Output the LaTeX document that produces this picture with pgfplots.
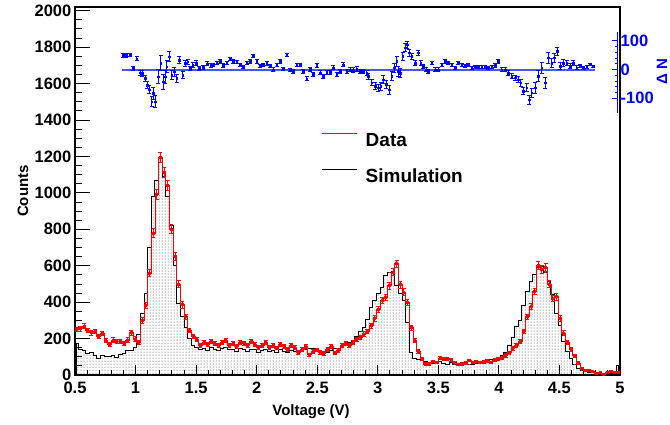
\documentclass[border=0pt]{standalone}
\usepackage{fontspec}
\setmainfont{Liberation Sans}
\usepackage{pgfplots}
\usepackage{pgfplotstable}
\pgfplotsset{compat=1.18}
\usetikzlibrary{patterns}
\definecolor{zeroblue}{RGB}{80,80,255}

\pgfplotstableread{
x data err sim
0.515 250 13 175
0.545 255 14 138
0.575 268 14 135
0.605 245 13 118
0.635 232 13 125
0.665 240 13 108
0.695 212 12 92
0.725 228 13 105
0.755 190 12 100
0.785 170 11 104
0.815 192 12 106
0.845 182 11 98
0.875 186 12 115
0.905 176 11 118
0.935 192 12 135
0.965 232 13 137
0.995 198 12 152
1.025 180 11 220
1.055 300 15 335
1.085 380 17 450
1.115 560 19 700
1.145 780 23 980
1.175 990 27 1070
1.205 1195 29 1190
1.235 1110 28 1090
1.265 1040 27 980
1.295 800 24 820
1.325 650 22 600
1.355 500 19 390
1.385 385 17 320
1.415 320 15 260
1.445 245 13 200
1.475 212 12 160
1.505 195 12 150
1.535 165 11 140
1.565 180 11 145
1.595 168 11 135
1.625 185 12 150
1.655 172 11 140
1.685 160 11 132
1.715 178 11 145
1.745 190 12 150
1.775 165 11 138
1.805 172 11 140
1.835 158 11 128
1.865 180 11 145
1.895 175 11 140
1.925 160 11 130
1.955 185 12 142
1.985 170 11 138
2.015 150 10 125
2.045 165 11 135
2.075 178 11 140
2.105 150 10 128
2.135 162 11 132
2.165 148 10 125
2.195 170 11 138
2.225 155 11 130
2.255 142 10 122
2.285 165 11 135
2.315 150 10 130
2.345 125 10 135
2.375 140 10 137
2.405 155 11 140
2.435 112 9 146
2.465 130 10 146
2.495 138 10 144
2.525 125 10 130
2.555 118 9 128
2.585 140 10 126
2.615 155 11 135
2.645 120 9 146
2.675 135 10 148
2.705 160 11 160
2.735 172 11 174
2.765 165 11 176
2.795 178 11 185
2.825 195 12 210
2.855 205 12 240
2.885 225 13 262
2.915 240 13 305
2.945 270 14 370
2.975 310 15 410
3.005 360 16 445
3.035 410 17 480
3.065 425 18 545
3.095 490 19 560
3.125 565 20 568
3.155 610 21 490
3.185 495 19 450
3.215 455 18 410
3.245 400 17 290
3.275 260 14 125
3.305 190 12 92
3.335 130 10 85
3.365 90 8 82
3.395 60 7 75
3.425 62 7 70
3.455 75 7 62
3.485 70 7 68
3.515 92 8 72
3.545 88 8 65
3.575 90 8 60
3.605 85 8 70
3.635 70 7 55
3.665 58 6 50
3.695 62 7 58
3.725 66 7 62
3.755 80 8 55
3.785 70 7 60
3.815 75 7 65
3.845 68 7 62
3.875 72 7 66
3.905 78 8 75
3.935 70 7 85
3.965 82 8 82
3.995 88 8 90
4.025 95 8 105
4.055 108 9 125
4.085 122 9 160
4.115 145 10 205
4.145 165 11 265
4.175 185 12 300
4.205 240 13 380
4.235 320 15 460
4.265 375 16 512
4.295 460 18 550
4.325 600 21 590
4.355 580 20 595
4.385 590 21 560
4.415 500 19 515
4.445 420 17 440
4.475 430 18 340
4.505 310 15 270
4.535 230 13 185
4.565 180 11 130
4.595 140 10 90
4.625 105 9 55
4.655 65 7 35
4.685 35 5 22
4.715 27 4 18
4.745 25 4 15
4.775 18 4 12
4.805 10 3 10
4.835 12 3 10
4.865 6 2 8
4.895 14 3 8
4.925 20 4 6
4.955 16 3 5
4.985 15 3 50
}\histtbl

\pgfplotstableread{
x y e
0.899 50 7
0.921 50 7
0.954 50 6
0.982 4 6
1.009 37 7
1.037 -11 8
1.053 -13 10
1.078 -31 10
1.097 -54 12
1.114 -71 14
1.133 -112 18
1.147 -83 20
1.161 -112 20
1.188 -25 24
1.208 22 26
1.229 -42 26
1.246 -25 22
1.257 10 20
1.276 45 18
1.298 -19 16
1.317 -8 15
1.340 -31 14
1.361 33 12
1.389 -19 11
1.408 22 10
1.431 27 9
1.450 4 8
1.472 16 8
1.500 22 8
1.526 4 7
1.560 8 7
1.590 20 7
1.620 15 6
1.642 17 6
1.670 23 6
1.697 29 6
1.725 14 6
1.752 23 6
1.780 37 6
1.807 29 6
1.835 26 6
1.862 17 6
1.890 9 6
1.917 23 6
1.945 29 6
1.973 46 5
2.000 29 6
2.028 12 6
2.055 17 6
2.083 21 6
2.110 12 6
2.138 0 6
2.165 17 6
2.193 29 6
2.220 2 6
2.248 52 5
2.275 -2 6
2.303 -6 6
2.330 17 6
2.358 17 6
2.385 -6 7
2.413 -32 7
2.441 2 7
2.468 -17 7
2.496 14 7
2.523 -11 7
2.551 -23 7
2.578 -9 7
2.606 -9 7
2.633 6 7
2.661 -17 7
2.688 -6 7
2.716 17 7
2.743 -6 7
2.771 0 7
2.798 -2 8
2.826 2 8
2.853 -6 8
2.881 -6 8
2.908 -12 9
2.922 -23 10
2.950 -46 10
2.977 -58 12
3.005 -64 12
3.024 -58 14
3.046 -35 14
3.068 -52 15
3.096 -70 16
3.115 -23 16
3.134 6 17
3.156 29 17
3.170 -6 17
3.184 -12 16
3.206 46 15
3.225 76 14
3.244 87 12
3.261 58 11
3.280 46 10
3.308 23 9
3.335 58 8
3.354 23 7
3.376 12 7
3.398 0 6
3.418 -6 6
3.445 23 6
3.473 0 6
3.500 0 6
3.528 17 6
3.555 29 6
3.583 23 6
3.610 17 6
3.638 6 6
3.665 23 6
3.693 17 6
3.720 12 6
3.748 17 6
3.775 6 6
3.803 9 6
3.830 9 6
3.858 9 6
3.886 9 6
3.913 6 6
3.941 9 6
3.968 14 6
3.996 29 6
4.023 0 7
4.051 0 7
4.078 -12 8
4.106 -23 9
4.133 -29 10
4.161 -35 11
4.180 -46 12
4.202 -75 12
4.230 -64 14
4.252 -105 15
4.271 -81 16
4.298 -64 18
4.326 -23 20
4.353 6 20
4.381 -46 20
4.408 41 18
4.436 23 17
4.455 41 16
4.483 64 14
4.505 12 13
4.532 23 12
4.560 23 10
4.587 12 9
4.615 23 8
4.642 6 7
4.670 12 6
4.697 6 5
4.725 9 5
4.753 17 4
4.780 12 4
}\restbl

\pgfplotstableread{
x y
0.89 0
4.79 0
}\zerotbl

\begin{document}
\begin{tikzpicture}
\path[use as bounding box] (0pt,0pt) rectangle (670pt,424pt);
\begin{axis}[
  at={(75pt,49pt)}, anchor=south west, scale only axis,
  width=545pt, height=368pt,
  xmin=0.5, xmax=5, ymin=0, ymax=2020,
  xtick={0.5,1,1.5,2,2.5,3,3.5,4,4.5,5},
  ytick={0,200,400,600,800,1000,1200,1400,1600,1800,2000},
  minor x tick num=4, minor y tick num=3,
  tick align=inside, xtick pos=left, ytick pos=left,
  major tick length=15pt, minor tick length=7pt,
  xtick style={/pgfplots/major tick length=10pt, /pgfplots/minor tick length=5pt},
  tick style={black, line width=0.8pt},
  axis line style={line width=1.2pt},
  /pgf/number format/assume math mode=true,
  /pgf/number format/1000 sep={},
  tick label style={font=\fontsize{16.5}{17}\selectfont\bfseries},
  xticklabel style={anchor=north, inner sep=0pt, yshift=-6.5pt},
  yticklabel style={anchor=east, inner sep=0pt, xshift=-3.5pt},
  xlabel={Voltage (V)},
  every axis x label/.style={at={(axis description cs:0.433,-0.109)}, anchor=base, inner sep=0pt, font=\fontsize{15}{15}\selectfont\bfseries},
  ylabel={Counts},
  every axis y label/.style={at={(axis description cs:-0.0862,0.5)}, rotate=90, anchor=base, inner sep=0pt, font=\fontsize{15}{15}\selectfont\bfseries},
  legend style={at={(axis description cs:0.4527,0.657)}, anchor=north west, draw=none, fill=none, inner sep=0pt, outer sep=0pt, font=\fontsize{19}{19}\selectfont\bfseries, row sep=21pt, column sep=8pt, nodes={inner sep=0pt}},
  legend cell align=left,
  legend image code/.code={\draw[#1] (0pt,7pt) -- (35pt,7pt);},
]
\addplot[black, line width=1pt, const plot mark mid, pattern=dots, pattern color=black!80, forget plot] table[x=x, y=sim]{\histtbl} \closedcycle;
\addplot[red, line width=0.8pt, const plot mark mid, mark=square*, mark size=1pt, forget plot,
  error bars/.cd, y dir=both, y explicit, error mark=|, error bar style={red, line width=0.8pt}, error mark options={red, mark size=2pt, line width=0.8pt}]
  table[x=x, y=data, y error=err]{\histtbl};
\addlegendimage{red, line width=1pt}
\addlegendentry{Data}
\addlegendimage{black, line width=1pt}
\addlegendentry{Simulation}
\end{axis}
\begin{axis}[
  at={(75pt,311pt)}, anchor=south west, scale only axis,
  width=542pt, height=81pt,
  xmin=0.5, xmax=4.9757, ymin=-151.6, ymax=130.7,
  hide x axis, axis y line*=right,
  y axis line style={blue, line width=1pt},
  ytick={-100,0,100}, minor y tick num=4,
  tick align=inside,
  major tick length=5pt, minor tick length=2.5pt,
  tick style={blue, line width=0.8pt},
  /pgf/number format/assume math mode=true,
  yticklabel style={blue, anchor=west, inner sep=0pt, xshift=3.5pt, font=\fontsize{16.5}{17}\selectfont\bfseries},
  ylabel={Δ N},
  every axis y label/.style={at={(axis description cs:1.0923,0.506)}, rotate=90, anchor=base, inner sep=0pt, blue, font=\fontsize{15}{15}\selectfont\bfseries},
  clip=false,
]
\addplot[zeroblue, line width=2pt, mark=none] table[x=x, y=y]{\zerotbl};
\addplot[blue, only marks, mark=square*, mark size=0.8pt,
  error bars/.cd, y dir=both, y explicit, error mark=|, error bar style={blue, line width=0.8pt}, error mark options={blue, mark size=2pt, line width=0.8pt}]
  table[x=x, y=y, y error=e]{\restbl};
\end{axis}
\end{tikzpicture}
\end{document}
